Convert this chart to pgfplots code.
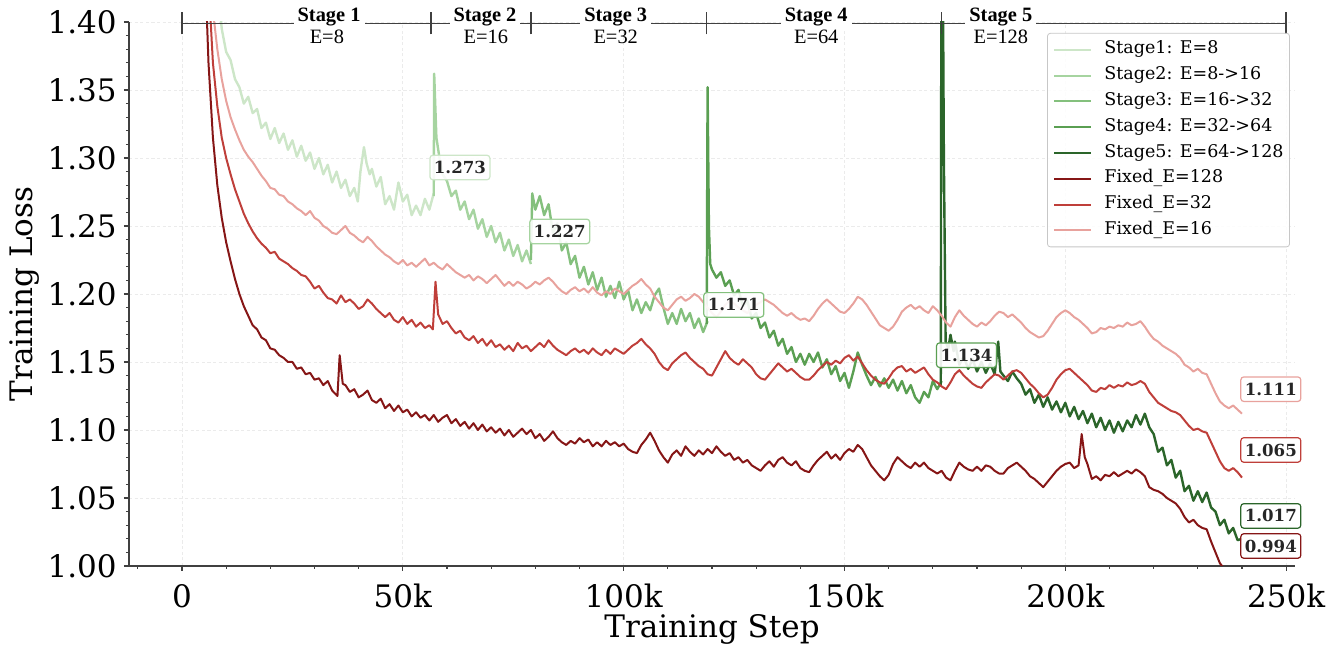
\documentclass[border=0pt]{standalone}
\usepackage{pgfplots}
\pgfplotsset{compat=1.18}
\usepackage{fontspec}
\setmainfont{DejaVu Serif}
\newfontfamily\timesfont{Liberation Serif}
\definecolor{sA}{HTML}{CDE6C8}
\definecolor{sB}{HTML}{A6D4A0}
\definecolor{sC}{HTML}{84C07D}
\definecolor{sD}{HTML}{5A9F52}
\definecolor{sE}{HTML}{2B652A}
\definecolor{fA}{HTML}{861616}
\definecolor{fB}{HTML}{BF3F3A}
\definecolor{fC}{HTML}{E8A29D}
\definecolor{axc}{HTML}{404040}
\begin{document}
\begin{tikzpicture}
\useasboundingbox (-64.5pt,-41pt) rectangle (606pt,283pt);
\begin{axis}[
  scale only axis, width=583pt, height=272pt,
  xmin=-12, xmax=252, ymin=1.0, ymax=1.4,
  clip mode=individual,
  axis x line*=bottom, axis y line*=left,
  axis line style={axc, line width=0.7pt},
  tick style={axc, line width=0.6pt},
  tick align=outside,
  major tick length=2.5pt, minor tick length=1.5pt,
  xtick={0,50,100,150,200,250},
  xticklabels={0,50k,100k,150k,200k,250k},
  minor xtick={-10,0,...,250},
  ytick={1.00,1.05,1.10,1.15,1.20,1.25,1.30,1.35,1.40},
  yticklabels={1.00,1.05,1.10,1.15,1.20,1.25,1.30,1.35,1.40},
  minor ytick={1.01,1.02,1.03,1.04,1.06,1.07,1.08,1.09,1.11,1.12,1.13,1.14,1.16,1.17,1.18,1.19,1.21,1.22,1.23,1.24,1.26,1.27,1.28,1.29,1.31,1.32,1.33,1.34,1.36,1.37,1.38,1.39},
  /pgf/number format/assume math mode=true,
  every tick label/.append style={font=\fontsize{15.5}{18}\selectfont, inner sep=0pt},
  yticklabel style={xshift=-3.5pt},
  xticklabel style={yshift=-6.5pt},
  grid=major,
  major grid style={black!8, line width=0.4pt, dash pattern=on 1.6pt off 1.2pt},
  xlabel={Training Step}, ylabel={Training Loss},
  label style={font=\fontsize{15.5}{18}\selectfont},
  xlabel style={at={([yshift=-36pt]axis description cs:0.5,0)}, anchor=base},
  ylabel style={at={([xshift=-48pt]axis description cs:0,0.5)}, anchor=base, rotate=0},
  every axis plot/.append style={line width=1pt, line join=round},
  legend style={at={(rel axis cs:0.9957,0.98)}, anchor=north east,
    font=\fontsize{8.75}{10}\selectfont, draw=black!22, fill=white,
    fill opacity=0.85, draw opacity=1, text opacity=1, rounded corners=1.5pt,
    inner xsep=3pt, inner ysep=4pt, row sep=4.4pt, column sep=6pt,
    nodes={inner sep=0pt, text height=6.3pt, text depth=2.2pt, anchor=west}},
  legend cell align=left,
  legend image code/.code={\draw[#1, line width=1pt] (0pt,0pt) -- (18.5pt,0pt);},
]
% Stage 1
\addplot[sA, line width=1.2pt] coordinates {(7,1.52)(8,1.43)(9,1.395)(10,1.378)(11,1.372)(12,1.358)(13,1.352)(14,1.340)(15,1.345)(16,1.333)(17,1.336)(18,1.322)(19,1.326)(20,1.314)(21,1.322)(22,1.311)(23,1.318)(24,1.306)(25,1.313)(26,1.301)(27,1.309)(28,1.298)(29,1.304)(30,1.292)(31,1.300)(32,1.288)(33,1.295)(34,1.282)(35,1.290)(36,1.278)(37,1.284)(38,1.272)(39,1.278)(39.8,1.268)(40.4,1.290)(41.2,1.308)(41.8,1.296)(42.5,1.288)(43,1.292)(44,1.279)(45,1.286)(46,1.266)(47,1.272)(48,1.262)(49,1.282)(50,1.268)(51,1.273)(52,1.258)(53,1.265)(54,1.258)(55,1.270)(56,1.262)(57,1.274)};
\addlegendentry{Stage1: E=8}
% Stage 2
\addplot[sB, line width=1.2pt] coordinates {(57,1.272)(57.1,1.362)(57.6,1.315)(58.3,1.300)(59,1.288)(60,1.283)(61,1.272)(62,1.276)(63,1.262)(64,1.268)(65,1.255)(66,1.262)(67,1.248)(68,1.255)(69,1.242)(70,1.250)(71,1.238)(72,1.245)(73,1.232)(74,1.240)(75,1.228)(76,1.236)(77,1.224)(78,1.232)(79,1.222)};
\addlegendentry{Stage2: E=8->16}
% Stage 3
\addplot[sC, line width=1.2pt] coordinates {(79,1.225)(79.3,1.274)(80,1.262)(81,1.272)(82,1.258)(83,1.266)(84,1.245)(85,1.252)(86,1.232)(87,1.238)(88,1.222)(89,1.228)(90,1.212)(91,1.220)(92,1.207)(93,1.216)(94,1.203)(95,1.212)(96,1.198)(97,1.206)(98,1.197)(99,1.209)(100,1.196)(101,1.203)(102,1.188)(103,1.196)(104,1.186)(105,1.194)(106,1.188)(107,1.199)(108,1.204)(109,1.190)(110,1.178)(111,1.186)(112,1.178)(113,1.189)(114,1.180)(115,1.186)(116,1.175)(117,1.182)(118,1.172)(119,1.180)};
\addlegendentry{Stage3: E=16->32}
% Stage 4
\addplot[sD, line width=1.2pt] coordinates {(118.8,1.178)(119,1.352)(119.3,1.250)(119.6,1.222)(120,1.218)(121,1.212)(122,1.216)(123,1.206)(124,1.210)(125,1.199)(126,1.203)(127,1.191)(128,1.195)(129,1.182)(130,1.186)(131,1.175)(132,1.179)(133,1.168)(134,1.173)(135,1.162)(136,1.167)(137,1.156)(138,1.161)(139,1.150)(140,1.156)(141,1.148)(142,1.156)(143,1.150)(144,1.157)(145,1.146)(146,1.152)(147,1.141)(148,1.147)(149,1.136)(150,1.142)(151,1.131)(152,1.143)(153,1.157)(154,1.148)(155,1.140)(156,1.133)(157,1.139)(158,1.132)(159,1.138)(160,1.131)(161,1.137)(162,1.129)(163,1.136)(164,1.127)(165,1.133)(166,1.124)(167,1.120)(168,1.128)(169,1.124)(170,1.136)(171,1.130)(172,1.136)};
\addlegendentry{Stage4: E=32->64}
% Stage 5
\addplot[sE, line width=1.2pt] coordinates {(171.8,1.132)(172,1.60)(172.5,1.30)(172.9,1.165)(173.5,1.160)(174,1.170)(174.7,1.158)(175,1.165)(176,1.148)(177,1.154)(178,1.145)(179,1.152)(180,1.143)(181,1.150)(182,1.142)(183,1.149)(184,1.141)(184.8,1.165)(185.3,1.143)(186,1.140)(187,1.136)(188,1.143)(189,1.138)(190,1.134)(191,1.126)(192,1.130)(193,1.120)(194,1.126)(195,1.117)(196,1.124)(197,1.115)(198,1.121)(199,1.113)(200,1.120)(201,1.110)(202,1.117)(203,1.108)(204,1.114)(205,1.105)(206,1.112)(207,1.102)(208,1.109)(209,1.100)(210,1.107)(211,1.098)(212,1.106)(213,1.099)(214,1.107)(215,1.102)(216,1.111)(217,1.104)(218,1.112)(219,1.102)(220,1.097)(221,1.084)(222,1.087)(223,1.074)(224,1.078)(225,1.065)(226,1.070)(227,1.055)(228,1.059)(229,1.048)(230,1.055)(231,1.047)(232,1.054)(233,1.043)(234,1.040)(235,1.030)(236,1.034)(237,1.024)(238,1.028)(239,1.019)(240,1.020)};
\addlegendentry{Stage5: E=64->128}
% Fixed E=128
\addplot[fA] coordinates {(3,1.90)(4,1.62)(5,1.46)(6,1.37)(7,1.315)(8,1.28)(9,1.256)(10,1.238)(11,1.224)(12,1.211)(13,1.200)(14,1.191)(15,1.184)(16,1.177)(17,1.174)(18,1.168)(19,1.166)(20,1.160)(21,1.159)(22,1.155)(23,1.153)(24,1.150)(25,1.150)(26,1.145)(27,1.146)(28,1.141)(29,1.142)(30,1.137)(31,1.138)(32,1.133)(33,1.136)(34,1.129)(35.2,1.125)(35.7,1.155)(36.4,1.134)(37,1.133)(38,1.128)(39,1.130)(40,1.124)(41,1.126)(42,1.129)(43,1.122)(44,1.120)(45,1.123)(46,1.116)(47,1.119)(48,1.114)(49,1.118)(50,1.113)(51,1.115)(52,1.110)(53,1.113)(54,1.109)(55,1.111)(56,1.107)(57,1.111)(58,1.106)(59,1.109)(60,1.111)(61,1.105)(62,1.108)(63,1.103)(64,1.106)(65,1.101)(66,1.105)(67,1.100)(68,1.104)(69,1.099)(70,1.102)(71,1.098)(72,1.101)(73,1.096)(74,1.100)(75,1.095)(76,1.098)(77,1.101)(78,1.097)(79,1.100)(80,1.094)(81,1.097)(82,1.092)(83,1.095)(84,1.099)(85,1.094)(86,1.091)(87,1.089)(88,1.092)(89,1.090)(90,1.094)(91,1.091)(92,1.093)(93,1.088)(94,1.091)(95,1.088)(96,1.092)(97,1.089)(98,1.091)(99,1.088)(100,1.090)(101,1.086)(102,1.084)(103,1.083)(104,1.089)(105,1.093)(106,1.098)(107,1.092)(108,1.085)(109,1.080)(110,1.076)(111,1.082)(112,1.085)(113,1.081)(114,1.088)(115,1.084)(116,1.081)(117,1.085)(118,1.082)(119,1.086)(120,1.083)(121,1.088)(122,1.084)(123,1.081)(124,1.083)(125,1.078)(126,1.080)(127,1.076)(128,1.078)(129,1.074)(130,1.072)(131,1.070)(132,1.074)(133,1.077)(134,1.073)(135,1.078)(136,1.080)(137,1.076)(138,1.074)(139,1.077)(140,1.072)(141,1.070)(142,1.069)(143,1.074)(144,1.078)(145,1.081)(146,1.084)(147,1.079)(148,1.082)(149,1.078)(150,1.083)(151,1.086)(152,1.084)(153,1.089)(154,1.086)(155,1.080)(156,1.074)(157,1.070)(158,1.066)(159,1.063)(160,1.067)(161,1.075)(162,1.080)(163,1.077)(164,1.074)(165,1.072)(166,1.076)(167,1.073)(168,1.076)(169,1.072)(170,1.070)(171,1.068)(172,1.070)(173,1.065)(174,1.063)(175,1.070)(176,1.076)(177,1.073)(178,1.071)(179,1.070)(180,1.073)(181,1.070)(182,1.074)(183,1.073)(184,1.070)(185,1.068)(186,1.068)(187,1.072)(188,1.074)(189,1.076)(190,1.073)(191,1.070)(192,1.066)(193,1.064)(194,1.061)(195,1.058)(196,1.062)(197,1.066)(198,1.070)(199,1.073)(200,1.075)(201,1.076)(202,1.072)(203,1.074)(203.7,1.097)(204.4,1.080)(205,1.075)(206,1.064)(207,1.066)(208,1.063)(209,1.067)(210,1.066)(211,1.069)(212,1.066)(213,1.068)(214,1.070)(215,1.068)(216,1.071)(217,1.069)(218,1.066)(219,1.058)(220,1.056)(221,1.055)(222,1.053)(223,1.050)(224,1.048)(225,1.046)(226,1.042)(227,1.036)(228,1.032)(229,1.034)(230,1.030)(231,1.028)(232,1.027)(233,1.018)(234,1.010)(235,1.002)(236,0.998)(237,0.997)(238,0.995)(239,0.997)(240,0.994)};
\addlegendentry{Fixed\_E=128}
% Fixed E=32
\addplot[fB] coordinates {(5,1.62)(6,1.48)(6.5,1.40)(7,1.37)(8,1.338)(9,1.315)(10,1.300)(11,1.288)(12,1.277)(13,1.268)(14,1.259)(15,1.252)(16,1.246)(17,1.241)(18,1.237)(19,1.234)(20,1.230)(21,1.231)(22,1.226)(23,1.224)(24,1.222)(25,1.219)(26,1.217)(27,1.214)(28,1.213)(29,1.209)(30,1.204)(31,1.206)(32,1.201)(33,1.197)(34,1.196)(35,1.193)(36,1.199)(37,1.194)(38,1.196)(39,1.193)(40,1.189)(41,1.191)(42,1.196)(43,1.193)(44,1.189)(45,1.186)(46,1.183)(47,1.186)(48,1.181)(49,1.179)(50,1.183)(51,1.178)(52,1.181)(53,1.176)(54,1.179)(55,1.175)(56,1.177)(56.8,1.174)(57.4,1.209)(58,1.185)(59,1.178)(60,1.180)(61,1.175)(62,1.171)(63,1.173)(64,1.168)(65,1.166)(66,1.169)(67,1.164)(68,1.167)(69,1.162)(70,1.166)(71,1.161)(72,1.163)(73,1.159)(74,1.162)(75,1.158)(76,1.164)(77,1.160)(78,1.162)(79,1.158)(80,1.161)(81,1.164)(82,1.161)(83,1.166)(84,1.162)(85,1.159)(86,1.157)(87,1.155)(88,1.158)(89,1.160)(90,1.157)(91,1.159)(92,1.156)(93,1.160)(94,1.157)(95,1.155)(96,1.159)(97,1.156)(98,1.160)(99,1.158)(100,1.156)(101,1.159)(102,1.162)(103,1.164)(104,1.167)(105,1.163)(106,1.160)(107,1.156)(108,1.150)(109,1.146)(110,1.144)(111,1.149)(112,1.152)(113,1.155)(114,1.157)(115,1.153)(116,1.150)(117,1.147)(118,1.145)(119,1.141)(120,1.140)(121,1.146)(122,1.152)(123,1.158)(124,1.153)(125,1.150)(126,1.148)(127,1.152)(128,1.149)(129,1.146)(130,1.141)(131,1.138)(132,1.137)(133,1.141)(134,1.145)(135,1.149)(136,1.146)(137,1.143)(138,1.145)(139,1.142)(140,1.139)(141,1.137)(142,1.137)(143,1.140)(144,1.144)(145,1.147)(146,1.150)(147,1.148)(148,1.151)(149,1.149)(150,1.153)(151,1.155)(152,1.151)(153,1.154)(154,1.149)(155,1.144)(156,1.140)(157,1.137)(158,1.135)(159,1.134)(160,1.138)(161,1.143)(162,1.146)(163,1.147)(164,1.143)(165,1.145)(166,1.142)(167,1.144)(168,1.146)(169,1.141)(170,1.137)(171,1.135)(172,1.132)(173,1.130)(174,1.135)(175,1.141)(176,1.144)(177,1.140)(178,1.137)(179,1.134)(180,1.132)(181,1.131)(182,1.135)(183,1.138)(184,1.141)(185,1.140)(186,1.137)(187,1.140)(188,1.143)(189,1.144)(190,1.142)(191,1.138)(192,1.134)(193,1.131)(194,1.127)(195,1.124)(196,1.126)(197,1.131)(198,1.137)(199,1.141)(200,1.144)(201,1.145)(202,1.142)(203,1.139)(204,1.136)(205,1.133)(206,1.129)(207,1.128)(208,1.131)(209,1.130)(210,1.133)(211,1.131)(212,1.133)(213,1.132)(214,1.135)(215,1.133)(216,1.134)(217,1.136)(218,1.134)(219,1.128)(220,1.124)(221,1.120)(222,1.118)(223,1.116)(224,1.114)(225,1.113)(226,1.111)(227,1.107)(228,1.103)(229,1.100)(230,1.101)(231,1.099)(232,1.098)(233,1.091)(234,1.084)(235,1.077)(236,1.072)(237,1.070)(238,1.072)(239,1.069)(240,1.065)};
\addlegendentry{Fixed\_E=32}
% Fixed E=16
\addplot[fC] coordinates {(6,1.62)(7,1.45)(7.3,1.40)(8,1.38)(9,1.358)(10,1.342)(11,1.330)(12,1.321)(13,1.313)(14,1.306)(15,1.301)(16,1.297)(17,1.292)(18,1.287)(19,1.283)(20,1.278)(21,1.277)(22,1.273)(23,1.272)(24,1.268)(25,1.266)(26,1.263)(27,1.261)(28,1.258)(29,1.261)(30,1.256)(31,1.254)(32,1.250)(33,1.248)(34,1.245)(35,1.244)(36,1.247)(37,1.250)(38,1.245)(39,1.243)(40,1.240)(41,1.238)(42,1.242)(43,1.239)(44,1.235)(45,1.232)(46,1.229)(47,1.227)(48,1.224)(49,1.222)(50,1.225)(51,1.221)(52,1.223)(53,1.220)(54,1.223)(55,1.226)(56,1.221)(57,1.223)(58,1.220)(59,1.218)(60,1.222)(61,1.219)(62,1.216)(63,1.214)(64,1.212)(65,1.214)(66,1.210)(67,1.213)(68,1.211)(69,1.208)(70,1.211)(71,1.214)(72,1.210)(73,1.206)(74,1.209)(75,1.206)(76,1.209)(77,1.207)(78,1.204)(79,1.206)(80,1.209)(81,1.207)(82,1.210)(83,1.212)(84,1.209)(85,1.205)(86,1.202)(87,1.200)(88,1.203)(89,1.205)(90,1.202)(91,1.204)(92,1.201)(93,1.205)(94,1.201)(95,1.199)(96,1.202)(97,1.200)(98,1.204)(99,1.202)(100,1.200)(101,1.203)(102,1.206)(103,1.208)(104,1.211)(105,1.207)(106,1.204)(107,1.198)(108,1.194)(109,1.190)(110,1.188)(111,1.192)(112,1.196)(113,1.198)(114,1.195)(115,1.197)(116,1.200)(117,1.198)(118,1.194)(119,1.190)(120,1.186)(121,1.183)(122,1.187)(123,1.192)(124,1.195)(125,1.193)(126,1.190)(127,1.188)(128,1.186)(129,1.189)(130,1.192)(131,1.194)(132,1.196)(133,1.194)(134,1.192)(135,1.189)(136,1.186)(137,1.184)(138,1.186)(139,1.183)(140,1.181)(141,1.182)(142,1.180)(143,1.184)(144,1.189)(145,1.193)(146,1.196)(147,1.193)(148,1.190)(149,1.187)(150,1.186)(151,1.189)(152,1.193)(153,1.198)(154,1.196)(155,1.192)(156,1.187)(157,1.182)(158,1.177)(159,1.175)(160,1.173)(161,1.176)(162,1.181)(163,1.187)(164,1.190)(165,1.192)(166,1.189)(167,1.191)(168,1.188)(169,1.186)(170,1.191)(171,1.188)(172,1.184)(173,1.179)(174,1.176)(175,1.183)(176,1.188)(177,1.184)(178,1.181)(179,1.178)(180,1.176)(181,1.179)(182,1.177)(183,1.180)(184,1.184)(185,1.187)(186,1.186)(187,1.183)(188,1.185)(189,1.182)(190,1.179)(191,1.175)(192,1.172)(193,1.170)(194,1.168)(195,1.169)(196,1.173)(197,1.178)(198,1.183)(199,1.186)(200,1.188)(201,1.186)(202,1.183)(203,1.181)(204,1.178)(205,1.175)(206,1.171)(207,1.172)(208,1.175)(209,1.174)(210,1.176)(211,1.175)(212,1.177)(213,1.176)(214,1.179)(215,1.177)(216,1.178)(217,1.180)(218,1.176)(219,1.171)(220,1.167)(221,1.165)(222,1.162)(223,1.160)(224,1.158)(225,1.156)(226,1.153)(227,1.148)(228,1.146)(229,1.143)(230,1.145)(231,1.142)(232,1.141)(233,1.134)(234,1.127)(235,1.121)(236,1.118)(237,1.116)(238,1.118)(239,1.115)(240,1.112)};
\addlegendentry{Fixed\_E=16}

% stage bar
\draw[axc, line width=0.75pt] (axis cs:0,1.399) -- (axis cs:250,1.399);
\draw[axc, line width=0.75pt] ([yshift=-5.5pt]axis cs:0,1.399) -- ([yshift=5.5pt]axis cs:0,1.399);
\draw[axc, line width=0.75pt] ([yshift=-5.5pt]axis cs:56.4,1.399) -- ([yshift=5.5pt]axis cs:56.4,1.399);
\draw[axc, line width=0.75pt] ([yshift=-5.5pt]axis cs:79,1.399) -- ([yshift=5.5pt]axis cs:79,1.399);
\draw[axc, line width=0.75pt] ([yshift=-5.5pt]axis cs:118.7,1.399) -- ([yshift=5.5pt]axis cs:118.7,1.399);
\draw[axc, line width=0.75pt] ([yshift=-5.5pt]axis cs:172,1.399) -- ([yshift=5.5pt]axis cs:172,1.399);
\draw[axc, line width=0.75pt] ([yshift=-5.5pt]axis cs:250,1.399) -- ([yshift=5.5pt]axis cs:250,1.399);
\tikzset{stg/.style={anchor=base, fill=white, inner xsep=2pt, inner ysep=1.5pt, font=\timesfont\bfseries\fontsize{10.2}{12}\selectfont},
         stE/.style={anchor=base, inner sep=0pt, font=\timesfont\fontsize{10.2}{12}\selectfont}}
\node[stg] at ([yshift=0.5pt]axis cs:33.3,1.40) {Stage 1};
\node[stg] at ([yshift=0.5pt]axis cs:68.6,1.40) {Stage 2};
\node[stg] at ([yshift=0.5pt]axis cs:98.2,1.40) {Stage 3};
\node[stg] at ([yshift=0.5pt]axis cs:143.6,1.40) {Stage 4};
\node[stg] at ([yshift=0.5pt]axis cs:185.4,1.40) {Stage 5};
\node[stE] at ([yshift=-10.5pt]axis cs:32.8,1.40) {E=8};
\node[stE] at ([yshift=-10.5pt]axis cs:68.8,1.40) {E=16};
\node[stE] at ([yshift=-10.5pt]axis cs:98.2,1.40) {E=32};
\node[stE] at ([yshift=-10.5pt]axis cs:143.6,1.40) {E=64};
\node[stE] at ([yshift=-10.5pt]axis cs:185.4,1.40) {E=128};
% annotations
\tikzset{ann/.style={anchor=west, fill=white, fill opacity=0.9, text opacity=1, rounded corners=1.5pt, line width=0.6pt, inner xsep=2pt, inner ysep=3pt, text=black!85, font=\bfseries\fontsize{8.3}{10}\selectfont}}
\node[ann, draw=sA] at (axis cs:56,1.293) {1.273};
\node[ann, draw=sB] at (axis cs:78.6,1.246) {1.227};
\node[ann, draw=sC] at (axis cs:118,1.192) {1.171};
\node[ann, draw=sD] at (axis cs:170.7,1.155) {1.134};
\node[ann, draw=fC] at (axis cs:239.6,1.130) {1.111};
\node[ann, draw=fB] at (axis cs:239.6,1.0853) {1.065};
\node[ann, draw=sE] at (axis cs:239.6,1.0368) {1.017};
\node[ann, draw=fA] at (axis cs:239.6,1.0147) {0.994};
\end{axis}
\end{tikzpicture}
\end{document}
